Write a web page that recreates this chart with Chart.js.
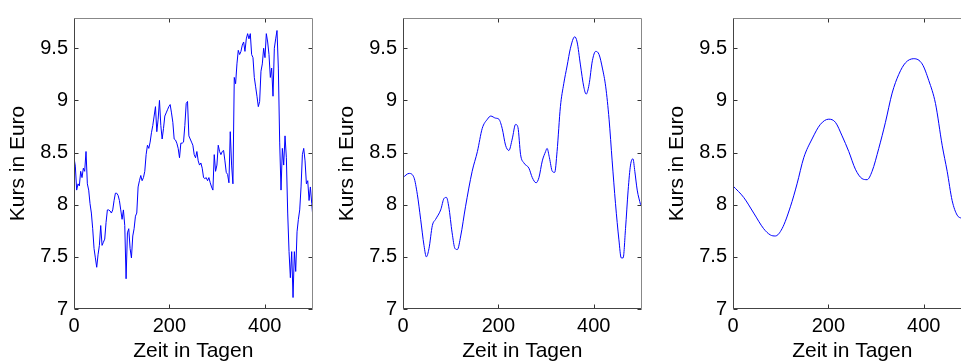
<!DOCTYPE html>
<html>
<head>
<meta charset="utf-8">
<script src="https://cdn.jsdelivr.net/npm/chart.js@4.4.1/dist/chart.umd.min.js"></script>
<style>
  html, body { margin: 0; padding: 0; overflow: hidden; background: #fff; width: 961px; height: 364px; }
  .panel { position: absolute; top: 0; }
</style>
</head>
<body>
<div class="panel" style="left:0px"><canvas id="chart1" width="330" height="364"></canvas></div>
<div class="panel" style="left:329px"><canvas id="chart2" width="330" height="364"></canvas></div>
<div class="panel" style="left:659px"><canvas id="chart3" width="330" height="364"></canvas></div>
<script>
const schritt1 = 2.8
const kurs1 = [8.45,8.37,8.14,8.20,8.18,8.32,8.26,8.35,8.32,8.51,8.20,8.14,8.01,7.92,7.77,7.58,7.49,7.40,7.52,7.61,
  7.80,7.61,7.64,7.67,7.83,7.95,7.95,7.94,7.92,7.95,8.04,8.11,8.11,8.09,8.04,7.95,7.86,7.95,7.80,7.29,
  7.73,7.77,7.58,7.49,7.70,7.77,7.89,7.92,8.17,8.23,8.28,8.23,8.26,8.32,8.48,8.57,8.54,8.60,8.69,8.76,
  8.85,8.94,8.70,8.82,9.00,8.76,8.63,8.73,8.85,8.88,8.91,8.94,8.96,8.88,8.79,8.63,8.62,8.59,8.54,8.45,
  8.59,8.59,8.60,8.76,8.97,8.99,8.66,8.63,8.60,8.57,8.48,8.45,8.51,8.42,8.38,8.40,8.35,8.26,8.25,8.26,
  8.23,8.26,8.21,8.17,8.14,8.48,8.32,8.38,8.57,8.51,8.48,8.51,8.52,8.42,8.31,8.29,8.21,8.70,8.38,8.20,
  9.22,9.16,9.35,9.48,9.44,9.47,9.53,9.56,9.47,9.59,9.64,9.59,9.64,9.44,9.41,9.22,9.13,9.04,8.94,8.99,
  9.28,9.35,9.50,9.41,9.64,9.56,9.44,9.22,9.31,9.04,9.50,9.59,9.67,9.31,8.60,8.14,8.54,8.38,8.66,8.45,
  7.92,7.55,7.30,7.55,7.11,7.55,7.36,7.74,7.86,7.95,8.17,8.48,8.54,8.42,8.20,8.23,8.04,8.17,8.01,7.86]
const tage1 = kurs1.map((k, i) => i * schritt1)

const tage2 = [0,12.6,23,30,37,44,49,54.5,61.5,68.4,79,86,91,96,103,109,114,121,131,145,156,166,177,184,194,201,208,215,222,229,
  236,241,246.5,253.5,264,271,279,285,292,299,302,307,313,318,323,330,337,344,351,360,365,372,379,384,390,397,404,411,418,425,
  432,438.5,445.5,452.5,457.5,461.5,466.5,472,477,482,486,491,498]
const kurs2 = [8.26,8.3,8.26,8.1,7.86,7.61,7.5,7.58,7.8,7.86,7.95,8.06,8.07,7.98,7.73,7.58,7.57,7.7,7.98,8.32,8.51,8.73,8.82,8.85,8.83,8.82,8.73,8.57,8.52,8.63,
  8.77,8.74,8.48,8.4,8.35,8.26,8.21,8.26,8.42,8.51,8.54,8.45,8.32,8.31,8.51,8.94,9.16,9.33,9.5,9.61,9.56,9.34,9.13,9.06,9.15,9.38,9.47,9.44,9.31,9.13,
  8.82,8.42,8.01,7.67,7.49,7.49,7.77,8.14,8.38,8.44,8.32,8.14,8.0]

const tage3 = [0,22.4,43.4,64.3,78.3,88.8,102.8,120.3,134.3,148.3,165.7,183.2,200.7,214.7,228.7,242.7,256.6,270.6,281.1,291.6,
  305.6,319.6,333.6,347.6,361.5,379,396.5,410.5,424.5,438.5,449,459.4,469.9,479,490,500]
const kurs3 = [8.18,8.07,7.92,7.77,7.71,7.7,7.77,7.98,8.2,8.45,8.63,8.77,8.82,8.79,8.66,8.51,8.34,8.25,8.24,8.32,
  8.54,8.79,9.07,9.25,9.36,9.4,9.35,9.19,8.97,8.57,8.32,8.04,7.9,7.87,7.85,7.86]

const yTicks = [7, 7.5, 8, 8.5, 9, 9.5]

const tickSchrift = { family: "'Liberation Sans', Arial, sans-serif", size: 20 }
const titelSchrift = { family: "'Liberation Sans', Arial, sans-serif", size: 21 }

// Rahmen und nach innen zeigende Ticks wie bei Matlab
const rahmen = {
  id: 'rahmen',
  afterDatasetsDraw(chart) {
    const ctx = chart.ctx
    const a = chart.chartArea
    const sx = chart.scales.x
    const sy = chart.scales.y
    const l = Math.round(a.left) + 0.5
    const r = Math.round(a.right) - 0.5
    const t = Math.round(a.top) + 0.5
    const b = Math.round(a.bottom) - 0.5
    ctx.save()
    ctx.lineWidth = 1
    ctx.strokeStyle = '#333'
    ctx.beginPath()
    sx.ticks.forEach(tk => {
      const px = Math.round(sx.getPixelForValue(tk.value)) + 0.5
      ctx.moveTo(px, b); ctx.lineTo(px, b - 4)
      ctx.moveTo(px, t); ctx.lineTo(px, t + 4)
    })
    sy.ticks.forEach(tk => {
      const py = Math.round(sy.getPixelForValue(tk.value)) + 0.5
      ctx.moveTo(l, py); ctx.lineTo(l + 4, py)
      ctx.moveTo(r, py); ctx.lineTo(r - 4, py)
    })
    ctx.stroke()
    ctx.strokeStyle = '#444'
    ctx.beginPath()
    ctx.moveTo(l, t); ctx.lineTo(l, b); ctx.lineTo(r, b)
    ctx.stroke()
    ctx.strokeStyle = '#888'
    ctx.beginPath()
    ctx.moveTo(l, t); ctx.lineTo(r, t); ctx.lineTo(r, b)
    ctx.stroke()
    ctx.restore()
  }
}

function zeichne(id, tage, kurs, glatt) {
  const punkte = tage.map((d, i) => ({ x: d, y: kurs[i] }))
  const config = {
    type: 'line',
    data: {
      datasets: [{
        data: punkte,
        borderColor: 'rgb(0, 0, 255)',
        borderWidth: 1,
        pointRadius: 0,
        fill: false,
        cubicInterpolationMode: glatt ? 'monotone' : 'default',
        tension: 0
      }]
    },
    options: {
      responsive: false,
      animation: false,
      devicePixelRatio: 1,
      layout: { padding: { top: 9, right: 17.5, bottom: 0, left: 0 } },
      plugins: { legend: { display: false }, tooltip: { enabled: false } },
      scales: {
        x: {
          type: 'linear',
          min: 0,
          max: 500,
          grid: { display: false, drawTicks: false },
          border: { display: false },
          ticks: { stepSize: 200, includeBounds: false, maxRotation: 0, padding: 5, color: '#000', font: tickSchrift },
          title: { display: true, text: 'Zeit in Tagen', color: '#000', font: titelSchrift, padding: { top: 0, bottom: 0 } },
          afterFit(scale) { scale.height = 55 }
        },
        y: {
          type: 'linear',
          min: 7,
          max: 9.79,
          grid: { display: false, drawTicks: false },
          border: { display: false },
          afterBuildTicks(scale) { scale.ticks = yTicks.map(v => ({ value: v })) },
          ticks: { padding: 6, color: '#000', font: tickSchrift, callback: v => String(v) },
          title: { display: true, text: 'Kurs in Euro', color: '#000', font: titelSchrift, padding: { top: 6, bottom: 0 } },
          afterFit(scale) { scale.width = 74 }
        }
      }
    },
    plugins: [rahmen]
  }
  return new Chart(document.getElementById(id), config)
}

zeichne('chart1', tage1, kurs1, false)
zeichne('chart2', tage2, kurs2, true)
zeichne('chart3', tage3, kurs3, true)
</script>
</body>
</html>
